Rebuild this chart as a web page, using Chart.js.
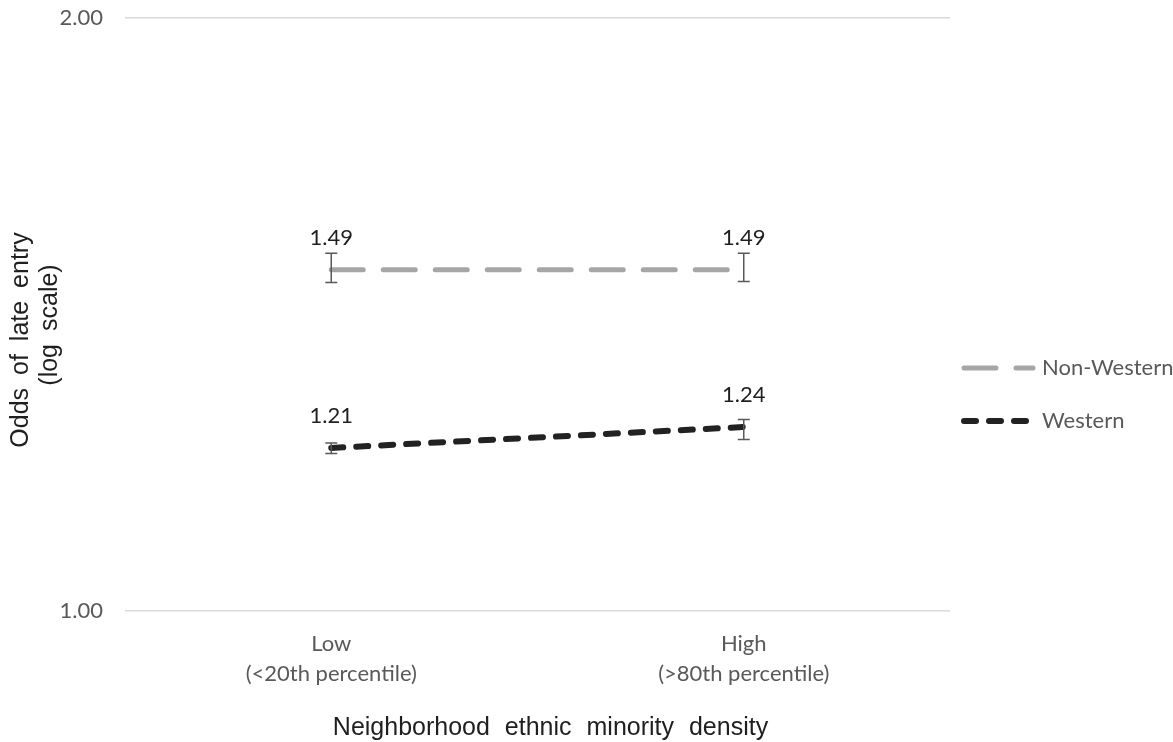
<!DOCTYPE html>
<html>
<head>
<meta charset="utf-8">
<script src="https://cdn.jsdelivr.net/npm/chart.js@4.4.1/dist/chart.umd.min.js"></script>
<style>
    html, body { margin: 0; padding: 0; background: #fff; }
    #wrap { width: 1173px; height: 742px; }
</style>
</head>
<body>
<div id="wrap"><canvas id="odds_Chart"></canvas></div>
<script>
// 데이터
const categories = [['Low', '(<20th percentile)'], ['High', '(>80th percentile)']];
const seriesNames = ['Non-Western', 'Western'];
const nonWestern = [1.49, 1.49];
const nonWesternLow = [1.468, 1.470];
const nonWesternHigh = [1.519, 1.519];
const western = [1.21, 1.24];
const westernLow = [1.202, 1.222];
const westernHigh = [1.217, 1.251];
const yTicks = [1, 2];
const xTitle = 'Neighborhood ethnic minority density';
const yTitle = ['Odds of late entry', '(log scale)'];

const labelFont = 'Lato, "Open Sans", sans-serif';
const titleFont = '"Liberation Sans", Arial, sans-serif';

// 오차 막대
const errorBars = {
    id: 'errorBars',
    afterDatasetsDraw(chart) {
        const ctx = chart.ctx;
        const y = chart.scales.y;
        ctx.save();
        ctx.strokeStyle = '#595959';
        ctx.lineWidth = 1.5;
        ctx.setLineDash([]);
        chart.data.datasets.forEach((ds, i) => {
            chart.getDatasetMeta(i).data.forEach((pt, j) => {
                const top = y.getPixelForValue(ds.errHigh[j]);
                const bot = y.getPixelForValue(ds.errLow[j]);
                ctx.beginPath();
                ctx.moveTo(pt.x, top); ctx.lineTo(pt.x, bot);
                ctx.moveTo(pt.x - 6, top); ctx.lineTo(pt.x + 6, top);
                ctx.moveTo(pt.x - 6, bot); ctx.lineTo(pt.x + 6, bot);
                ctx.stroke();
            });
        });
        ctx.restore();
    }
};

// 값 라벨
const valueLabels = {
    id: 'valueLabels',
    afterDatasetsDraw(chart) {
        const ctx = chart.ctx;
        ctx.save();
        ctx.fillStyle = '#1f1f1f';
        ctx.font = '22px ' + labelFont;
        ctx.textAlign = 'center';
        ctx.textBaseline = 'middle';
        chart.data.datasets.forEach((ds, i) => {
            chart.getDatasetMeta(i).data.forEach((pt, j) => {
                ctx.fillText(ds.data[j].toFixed(2), pt.x, pt.y - 32);
            });
        });
        ctx.restore();
    }
};

// 축 제목 (단어 간격 때문에 직접 그림)
const axisTitles = {
    id: 'axisTitles',
    afterDraw(chart) {
        const ctx = chart.ctx;
        const area = chart.chartArea;
        ctx.save();
        ctx.fillStyle = '#1f1f1f';
        ctx.font = '25px ' + titleFont;
        ctx.textAlign = 'center';
        ctx.textBaseline = 'middle';
        ctx.wordSpacing = '8px';
        ctx.fillText(xTitle, (area.left + area.right) / 2 + 13, 728);
        ctx.wordSpacing = '6px';
        const centers = [340, 325];
        const xs = [21, 50];
        yTitle.forEach((line, k) => {
            ctx.save();
            ctx.translate(xs[k], centers[k]);
            ctx.rotate(-Math.PI / 2);
            ctx.fillText(line, 0, 0);
            ctx.restore();
        });
        ctx.restore();
    }
};

// 범례 (점선 그대로)
const dashLegend = {
    id: 'dashLegend',
    afterDraw(chart) {
        const ctx = chart.ctx;
        const area = chart.chartArea;
        const x0 = area.right + 14;
        const rows = [368, 421];
        ctx.save();
        ctx.font = '22px ' + labelFont;
        ctx.textBaseline = 'middle';
        chart.data.datasets.forEach((ds, i) => {
            const ly = rows[i];
            ctx.strokeStyle = ds.borderColor;
            ctx.lineWidth = ds.borderWidth;
            ctx.lineCap = 'round';
            ctx.setLineDash(ds.borderDash);
            ctx.beginPath();
            ctx.moveTo(x0, ly);
            ctx.lineTo(x0 + 69, ly);
            ctx.stroke();
            ctx.fillStyle = '#595959';
            ctx.fillText(ds.label, x0 + 78, ly);
        });
        ctx.restore();
    }
};

const ctx_odds = document.getElementById('odds_Chart').getContext('2d');
new Chart(ctx_odds, {
    type: 'line',
    data: {
        labels: categories,
        datasets: [{
            label: seriesNames[0],
            data: nonWestern,
            errLow: nonWesternLow,
            errHigh: nonWesternHigh,
            borderColor: '#a6a6a6',
            borderWidth: 5,
            borderDash: [32, 20],
            borderCapStyle: 'round',
            pointRadius: 0,
            fill: false
        }, {
            label: seriesNames[1],
            data: western,
            errLow: westernLow,
            errHigh: westernHigh,
            borderColor: '#222222',
            borderWidth: 6,
            borderDash: [12, 13],
            borderCapStyle: 'round',
            pointRadius: 0,
            fill: false
        }]
    },
    options: {
        responsive: true,
        maintainAspectRatio: false,
        animation: false,
        layout: {
            padding: { top: 18, right: 223, bottom: 0, left: 0 }
        },
        plugins: {
            legend: { display: false },
            tooltip: { enabled: false }
        },
        scales: {
            x: {
                offset: true,
                grid: { display: false },
                border: { display: false },
                afterFit: (axis) => { axis.height = 131; },
                ticks: {
                    color: '#595959',
                    padding: 10,
                    maxRotation: 0,
                    font: { family: labelFont, size: 22, lineHeight: 1.36 }
                }
            },
            y: {
                type: 'logarithmic',
                min: 1,
                max: 2,
                afterBuildTicks: (axis) => {
                    axis.ticks = yTicks.map(v => ({ value: v }));
                },
                afterFit: (axis) => {
                    axis.width = 125;
                    axis.paddingTop = 0;
                    axis.paddingBottom = 0;
                },
                grid: {
                    color: '#d9d9d9',
                    lineWidth: 1.5,
                    drawTicks: false
                },
                border: { display: false },
                ticks: {
                    color: '#595959',
                    padding: 22,
                    font: { family: labelFont, size: 22 },
                    callback: (value) => Number(value).toFixed(2)
                }
            }
        }
    },
    plugins: [errorBars, valueLabels, axisTitles, dashLegend]
});
</script>
</body>
</html>
